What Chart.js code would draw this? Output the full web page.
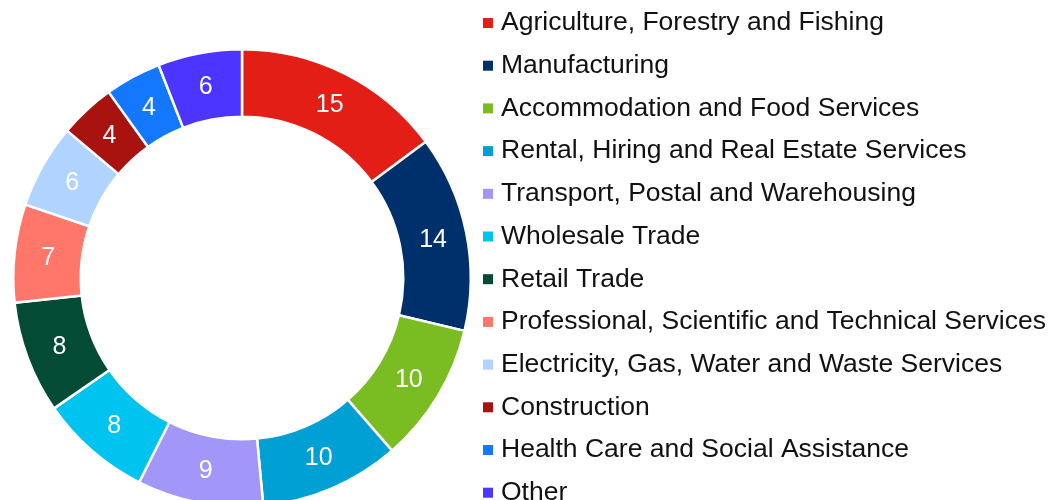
<!DOCTYPE html>
<html>
<head>
<meta charset="utf-8">
<script src="https://cdn.jsdelivr.net/npm/chart.js@4"></script>
<style>
    html, body { margin: 0; padding: 0; background: #fff; overflow: hidden; }
    #wrap { width: 1055px; height: 500px; overflow: hidden; }
</style>
</head>
<body>
<div id="wrap"><canvas id="industryChart" width="1055" height="560"></canvas></div>
<script>
const industries = [
    'Agriculture, Forestry and Fishing',
    'Manufacturing',
    'Accommodation and Food Services',
    'Rental, Hiring and Real Estate Services',
    'Transport, Postal and Warehousing',
    'Wholesale Trade',
    'Retail Trade',
    'Professional, Scientific and Technical Services',
    'Electricity, Gas, Water and Waste Services',
    'Construction',
    'Health Care and Social Assistance',
    'Other',
];
const shares = [15, 14, 10, 10, 9, 8, 8, 7, 6, 4, 4, 6];
const colours = [
    '#E21E16', '#00306C', '#7ABD22', '#00A0D4', '#A296F8', '#00C3F0',
    '#034B34', '#FF766A', '#B0D3FF', '#A8130F', '#1478FF', '#4B35FF',
];

const FONT = '"Liberation Sans", Arial, sans-serif';

// White value labels in the middle of each ring segment.
const sliceLabels = {
    id: 'sliceLabels',
    afterDatasetsDraw(chart) {
        const ctx = chart.ctx;
        const values = chart.data.datasets[0].data;
        ctx.save();
        ctx.font = '25px ' + FONT;
        ctx.fillStyle = '#ffffff';
        ctx.textAlign = 'center';
        ctx.textBaseline = 'middle';
        chart.getDatasetMeta(0).data.forEach((arc, i) => {
            const pos = arc.tooltipPosition();
            ctx.fillText(values[i], pos.x, pos.y + 1);
        });
        ctx.restore();
    }
};

// Legend drawn down the right side; Chart.js' own legend would cap its width at half the canvas.
const sideLegend = {
    id: 'sideLegend',
    afterDraw(chart, args, opts) {
        const ctx = chart.ctx;
        const bg = chart.data.datasets[0].backgroundColor;
        ctx.save();
        ctx.font = opts.fontSize + 'px ' + FONT;
        ctx.textBaseline = 'middle';
        ctx.textAlign = 'left';
        chart.data.labels.forEach((label, i) => {
            const y = opts.top + i * opts.step;
            ctx.fillStyle = bg[i];
            ctx.fillRect(opts.x, y - opts.box / 2, opts.box, opts.box);
            ctx.fillStyle = '#111111';
            ctx.fillText(label, opts.x + opts.textGap, y);
        });
        ctx.restore();
    }
};

new Chart(document.getElementById('industryChart'), {
    type: 'doughnut',
    data: {
        labels: industries,
        datasets: [{
            data: shares,
            backgroundColor: colours,
            borderColor: '#ffffff',
            borderWidth: 2.5,
        }],
    },
    options: {
        responsive: false,
        animation: false,
        events: [],
        cutout: '70.5%',
        layout: {
            padding: { left: 12, top: 48, right: 583, bottom: 52 },
        },
        plugins: {
            legend: { display: false },
            tooltip: { enabled: false },
            sideLegend: { x: 483, top: 23, step: 42.7, box: 10, textGap: 18, fontSize: 26.5 },
        },
    },
    plugins: [sliceLabels, sideLegend],
});
</script>
</body>
</html>
